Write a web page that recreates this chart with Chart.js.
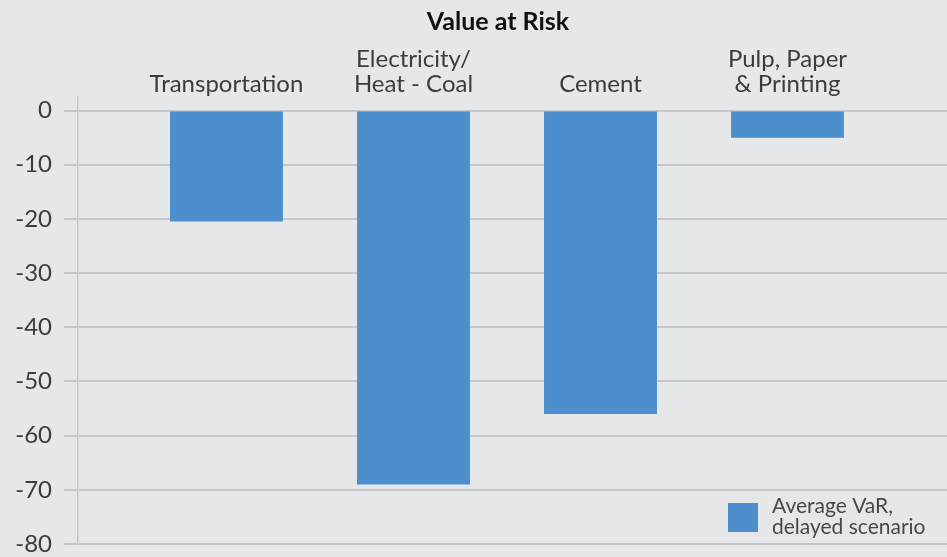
<!DOCTYPE html>
<html>
<head>
<meta charset="utf-8">
<script src="https://cdn.jsdelivr.net/npm/chart.js@4"></script>
<style>
  html, body { margin: 0; padding: 0; background: #e6e7e8; }
  #wrap { width: 947px; height: 557px; }
</style>
</head>
<body>
<div id="wrap"><canvas id="varChart" width="947" height="557"></canvas></div>
<script>
const chartTitle = 'Value at Risk';
const categories = ['Transportation', ['Electricity/', 'Heat - Coal'], 'Cement', ['Pulp, Paper', '& Printing']];
const varValues = [-20.5, -69, -56, -5];
const legendLines = ['Average VaR,', 'delayed scenario'];
const yTicks = [0, -10, -20, -30, -40, -50, -60, -70, -80];

const barBlue = '#4d8fcd';
const gridGrey = '#c6c7c8';
const textGrey = '#3c3c3c';
const fontFam = 'Lato, "Open Sans", sans-serif';

// title + two-line legend drawn on the canvas
const extras = {
  id: 'extras',
  afterDraw(chart) {
    const c = chart.ctx;
    const area = chart.chartArea;
    c.save();
    c.fillStyle = '#111';
    c.font = 'bold 25px ' + fontFam;
    c.textAlign = 'center';
    c.textBaseline = 'middle';
    c.fillText(chartTitle, 498, 22);

    const bx = area.right - 219, by = area.bottom - 41;
    c.fillStyle = barBlue;
    c.fillRect(bx, by, 30, 29);
    c.fillStyle = '#474747';
    c.font = '21px ' + fontFam;
    c.textAlign = 'left';
    c.textBaseline = 'alphabetic';
    legendLines.forEach((t, i) => c.fillText(t, bx + 44, by + 10 + i * 21));
    c.restore();
  }
};

new Chart(document.getElementById('varChart'), {
  type: 'bar',
  data: {
    datasets: [{
      label: legendLines.join(' '),
      data: varValues.map((v, i) => ({ x: i, y: v })),
      backgroundColor: barBlue,
      borderWidth: 0,
      categoryPercentage: 1,
      barPercentage: 0.604
    }]
  },
  options: {
    responsive: true,
    maintainAspectRatio: false,
    animation: false,
    layout: { padding: 0 },
    plugins: {
      legend: { display: false },
      title: { display: false },
      tooltip: { enabled: false }
    },
    scales: {
      x: {
        type: 'linear',
        position: 'top',
        offset: false,
        min: -0.794,
        max: 3.853,
        grid: { display: false, drawTicks: false, tickLength: 0, offset: false },
        border: { display: false },
        ticks: {
          stepSize: 1,
          includeBounds: false,
          autoSkip: false,
          maxRotation: 0,
          padding: 0,
          color: textGrey,
          font: { family: fontFam, size: 24, lineHeight: 1.05 },
          callback: (v) => (Number.isInteger(v) && categories[v] !== undefined) ? categories[v] : ''
        },
        afterFit(scale) { scale.height = 97; }
      },
      y: {
        min: -80,
        max: 2.5,
        grid: { color: gridGrey, lineWidth: 2, tickLength: 14, tickColor: gridGrey },
        border: { display: true, color: gridGrey, width: 1.5 },
        afterBuildTicks(scale) { scale.ticks = yTicks.map(v => ({ value: v })); },
        ticks: {
          padding: 12,
          color: textGrey,
          font: { family: fontFam, size: 24, lineHeight: 1.0 }
        },
        afterFit(scale) {
          scale.width = 78;
          scale.paddingBottom = 13;
        }
      }
    }
  },
  plugins: [extras]
});
</script>
</body>
</html>
